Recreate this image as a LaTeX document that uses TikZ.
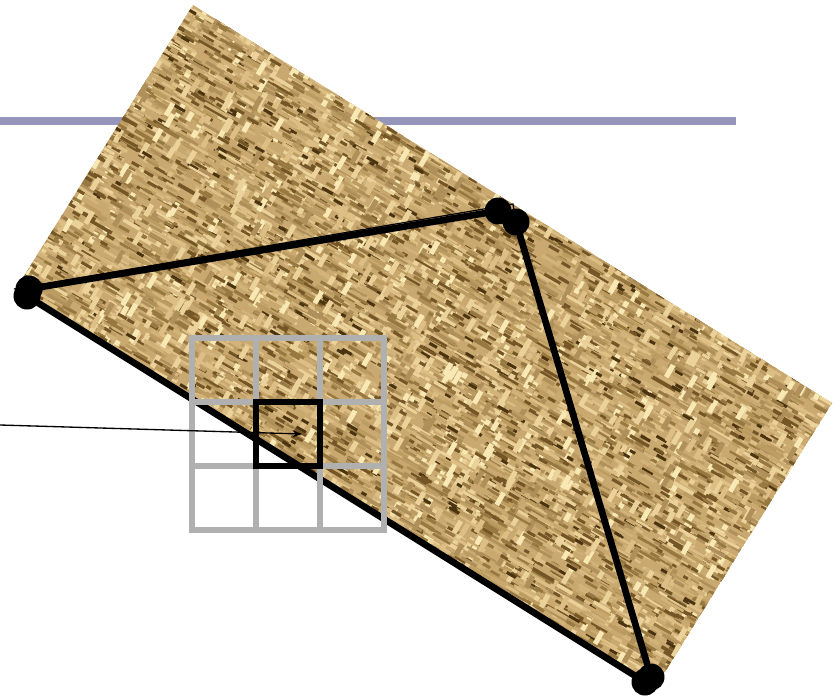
\documentclass[tikz,border=0pt]{standalone}
\usetikzlibrary{arrows.meta}
\definecolor{barblue}{HTML}{9696BD}
\definecolor{gridgray}{HTML}{B0B0B0}
\definecolor{straw0}{HTML}{C9A970}
\definecolor{straw1}{HTML}{DDBE85}
\definecolor{straw2}{HTML}{B0905A}
\definecolor{straw3}{HTML}{EBD29A}
\definecolor{straw4}{HTML}{967840}
\definecolor{straw5}{HTML}{D2B47A}
\definecolor{straw6}{HTML}{735526}
\definecolor{straw7}{HTML}{F8E8B4}
\definecolor{straw8}{HTML}{BC9C60}
\definecolor{straw9}{HTML}{4A3310}
\begin{document}
\begin{tikzpicture}[
    x=0.03cm, y=-0.03cm,
    vertex/.style={circle, fill=black, inner sep=0pt, minimum size=0.81cm},
    edge/.style={line width=0.2cm, line cap=round},
    thinedge/.style={line width=0.035cm},
    gridline/.style={draw=gridgray, line width=0.18cm, line cap=rect},
    cell/.style={draw=black, line width=0.18cm, inner sep=0pt, minimum size=1.92cm},
    >=Stealth
]
\useasboundingbox (0,0) rectangle (840,698);
\pgfmathsetseed{4711}

% --- BAR ---
\fill[barblue] (0,117) rectangle (736,125);

% --- TEXTURE ---
\begin{scope}
\clip (193,5) -- (832,403) -- (655,688) -- (16,289) -- cycle;
\fill[straw0] (193,5) -- (832,403) -- (655,688) -- (16,289) -- cycle;
\begin{scope}[shift={(193,5)}, rotate=-30]
\foreach \pass in {1,...,6}{
  % streaks along the long side
  \foreach \tone/\many in {0/170,1/170,2/190,5/170,8/190,3/90,4/120,6/60}{
    \fill[straw\tone] \foreach \k in {1,...,\many}{
      ({rnd*820-40},{rnd*420-30}) rectangle ++({7+rnd*20},{1.8+rnd*2})
    };
  }
  % cross patches of the weave
  \foreach \tone/\many in {7/75,3/100,1/50,2/40}{
    \fill[straw\tone] \foreach \k in {1,...,\many}{
      ({rnd*820-40},{rnd*420-30}) rectangle ++(5,14)
    };
  }
  % dark knots
  \foreach \tone/\many in {4/150,6/170,9/70}{
    \fill[straw\tone] \foreach \k in {1,...,\many}{
      ({rnd*820-40},{rnd*420-30}) rectangle ++({5+rnd*8},3)
    };
  }
}
\end{scope}
\end{scope}

% --- TRIANGLE ---
\node[vertex] (leftA) at (29,289) {};
\node[vertex] (leftB) at (27,296) {};
\node[vertex] (topA) at (498,211) {};
\node[vertex] (topB) at (516,222) {};
\node[vertex] (lowA) at (651,677) {};
\node[vertex] (lowB) at (645,682) {};
\coordinate (thinstart) at (14,289);
\coordinate (thinend) at (513,204);
\draw[thinedge] (thinstart) -- (thinend) -- ++(1,6);
\draw[edge] (leftA) -- (topA);
\draw[edge] (topB) -- (lowA);
\draw[edge] (leftB) -- (lowB);

% --- GRID ---
\foreach \i in {192,256,320,384}{
  \draw[gridline] (\i,338) -- (\i,530);
}
\foreach \j in {338,402,466,530}{
  \draw[gridline] (192,\j) -- (384,\j);
}
\node[cell] (center) at (288,434) {};

% --- POINTER ---
\coordinate (tail) at (0,425);
\coordinate (tip) at (center.center);
\draw[->, line width=0.04cm] (tail) -- ([xshift=0.42cm]tip);

\end{tikzpicture}
\end{document}
